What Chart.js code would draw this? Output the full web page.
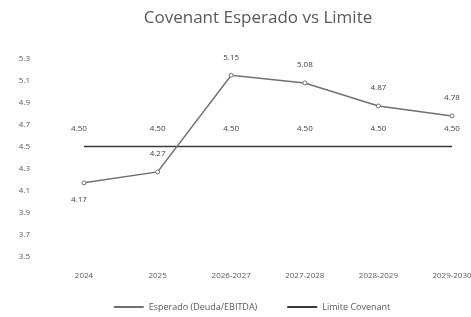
<!DOCTYPE html>
<html>
<head>
<meta charset="utf-8">
<script src="https://cdn.jsdelivr.net/npm/chart.js@4.4.1/dist/chart.umd.min.js"></script>
<style>
  html, body { margin: 0; padding: 0; background: #fff; }
  #wrap { width: 471px; height: 317px; }
</style>
</head>
<body>
<div id="wrap"><canvas id="covenantChart" width="471" height="317"></canvas></div>
<script>
// datos
const periodos = ['2024', '2025', '2026-2027', '2027-2028', '2028-2029', '2029-2030'];
const esperado = [4.17, 4.27, 5.15, 5.08, 4.87, 4.78];
const limite = [4.50, 4.50, 4.50, 4.50, 4.50, 4.50];
const ejeY = { min: 3.5, max: 5.3, paso: 0.2 };

const titulo = 'Covenant Esperado vs Limite';
const leyenda = ['Esperado (Deuda/EBITDA)', 'Limite Covenant'];

// etiquetas arriba/abajo del punto
const posEsperado = ['below', 'above', 'above', 'above', 'above', 'above'];

const gris = '#595959';

// etiquetas de datos (no hay plugin datalabels)
const etiquetasPlugin = {
  id: 'etiquetas',
  afterDatasetsDraw(chart) {
    const ctx = chart.ctx;
    ctx.save();
    ctx.font = '8px "Open Sans", sans-serif';
    ctx.fillStyle = '#404040';
    ctx.textAlign = 'center';
    ctx.textBaseline = 'middle';
    chart.data.datasets.forEach((ds, i) => {
      const meta = chart.getDatasetMeta(i);
      meta.data.forEach((pt, j) => {
        const abajo = i === 0 && posEsperado[j] === 'below';
        const dy = abajo ? 17 : -18;
        ctx.fillText(ds.data[j].toFixed(2), pt.x - (j === 0 ? 5 : 0), pt.y + dy);
      });
    });
    ctx.restore();
  }
};

// título y leyenda centrados sobre el área del gráfico
const tituloLeyendaPlugin = {
  id: 'tituloLeyenda',
  afterDraw(chart) {
    const ctx = chart.ctx;
    const area = chart.chartArea;
    const cx = (area.left + area.right) / 2 - 10;
    ctx.save();
    ctx.fillStyle = gris;
    ctx.textAlign = 'center';
    ctx.textBaseline = 'middle';
    ctx.font = '17px "Open Sans", sans-serif';
    ctx.fillText(titulo, cx, 18);

    // leyenda
    ctx.font = '9px "Open Sans", sans-serif';
    ctx.textAlign = 'left';
    const colores = chart.data.datasets.map(d => d.borderColor);
    const sample = 30, gap = 5, sep = 30;
    const anchos = leyenda.map(t => ctx.measureText(t).width);
    const total = anchos.reduce((a, w) => a + sample + gap + w, 0) + sep;
    let x = cx - 6 - total / 2;
    const y = 307;
    leyenda.forEach((t, i) => {
      ctx.strokeStyle = colores[i];
      ctx.lineWidth = 2;
      ctx.beginPath();
      ctx.moveTo(x, y);
      ctx.lineTo(x + sample, y);
      ctx.stroke();
      ctx.fillText(t, x + sample + gap, y);
      x += sample + gap + anchos[i] + sep;
    });
    ctx.restore();
  }
};

new Chart(document.getElementById('covenantChart'), {
  type: 'line',
  data: {
    labels: periodos,
    datasets: [
      {
        label: leyenda[0],
        data: esperado,
        borderColor: '#707070',
        backgroundColor: '#707070',
        borderWidth: 1.5,
        pointRadius: 2,
        pointBorderWidth: 1,
        pointBackgroundColor: '#fff',
        tension: 0
      },
      {
        label: leyenda[1],
        data: limite,
        borderColor: '#3a3a3a',
        backgroundColor: '#3a3a3a',
        borderWidth: 1.5,
        pointRadius: 0,
        tension: 0
      }
    ]
  },
  options: {
    responsive: false,
    animation: false,
    layout: { padding: { top: 42, left: 12, right: 19, bottom: 29 } },
    plugins: {
      legend: { display: false },
      title: { display: false },
      tooltip: { enabled: false }
    },
    scales: {
      x: {
        grid: { display: false },
        border: { display: false },
        ticks: {
          color: gris,
          font: { size: 8, family: '"Open Sans", sans-serif' },
          maxRotation: 0,
          autoSkip: false,
          padding: 7
        },
        afterFit(scale) {
          scale.paddingLeft = 0;
          scale.paddingRight = 0;
        }
      },
      y: {
        min: ejeY.min,
        max: ejeY.max,
        grid: { display: false, drawTicks: false },
        border: { display: false },
        ticks: {
          stepSize: ejeY.paso,
          color: gris,
          font: { size: 8, family: '"Open Sans", sans-serif' },
          padding: 54,
          callback: v => v.toFixed(1)
        },
        afterFit(scale) {
          scale.width = 72;
        }
      }
    }
  },
  plugins: [etiquetasPlugin, tituloLeyendaPlugin]
});
</script>
</body>
</html>
